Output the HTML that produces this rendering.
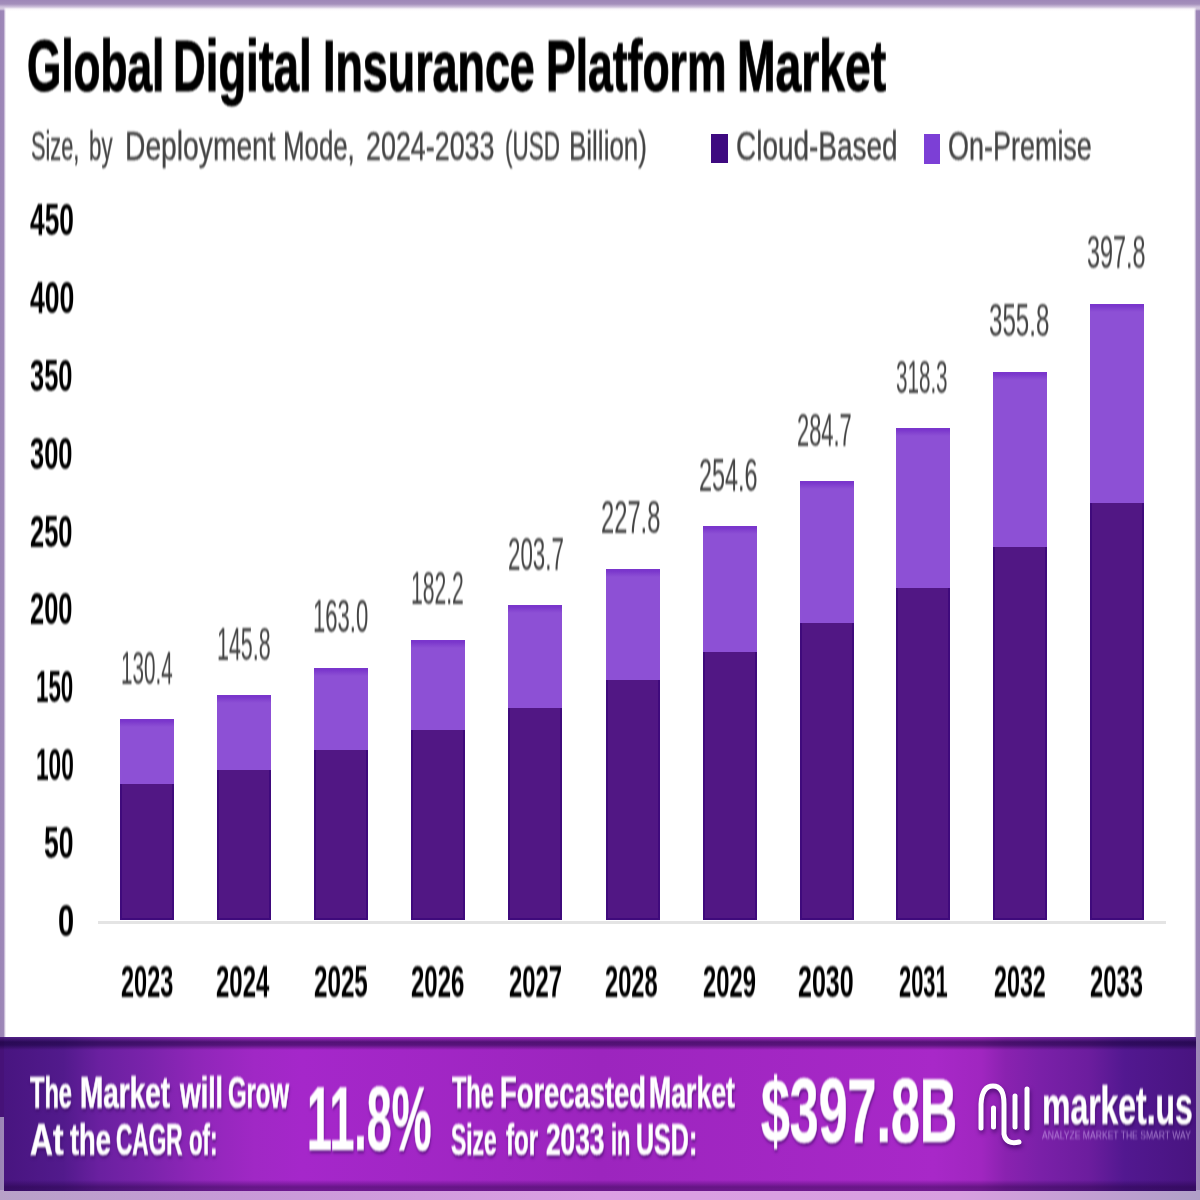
<!DOCTYPE html>
<html><head><meta charset="utf-8">
<style>
html,body{margin:0;padding:0;}
body{width:1200px;height:1200px;position:relative;overflow:hidden;background:#fff;font-family:"Liberation Sans",sans-serif;}
.w,.a{filter:blur(0.9px);}
.a{position:absolute;white-space:nowrap;line-height:1;}
.w{position:absolute;white-space:nowrap;line-height:1;transform-origin:0 0;}
.bd{position:absolute;background:#9e88b9;}
.bar{position:absolute;width:54px;box-sizing:border-box;filter:blur(0.6px);}
.c{background:#511784;border-left:2px solid #3f0a7c;border-right:2px solid #3f0a7c;border-bottom:2px solid #3f0a7c;}
.p{background:linear-gradient(180deg,#7a36cc 0px,#7a36cc 2px,#8444d0 5px,#8d50d5 8px);}
</style></head><body>

<div style="position:absolute;left:0;top:0;width:6px;height:1200px;background:linear-gradient(90deg,#9b84b6 0px,#9e88b8 3.5px,#e0d8e8 5px,rgba(255,255,255,0) 6px);"></div>
<div style="position:absolute;left:1194px;top:0;width:6px;height:1200px;background:linear-gradient(90deg,rgba(255,255,255,0) 0px,#e0d8e8 1px,#9e88b8 2.5px,#9b84b6 6px);"></div>
<div style="position:absolute;left:0;top:0;width:1200px;height:11px;background:linear-gradient(180deg,#9e87b8 0px,#a48fbb 4px,rgba(207,194,220,1) 7px,rgba(244,240,246,0.6) 9px,rgba(255,255,255,0) 11px);"></div>
<div style="position:absolute;left:711px;top:134px;width:17px;height:29px;background:#3e0a80;"></div>
<div style="position:absolute;left:924px;top:134px;width:16px;height:30px;background:#7c3fd6;"></div>
<div style="position:absolute;left:98px;top:921px;width:1068px;height:3px;background:#e4e4e4;"></div>
<div class="bar p" style="left:120px;top:719px;height:65px;"></div>
<div class="bar c" style="left:120px;top:784px;height:136px;"></div>
<div class="bar p" style="left:217px;top:695px;height:75px;"></div>
<div class="bar c" style="left:217px;top:770px;height:150px;"></div>
<div class="bar p" style="left:314px;top:667.5px;height:82.5px;"></div>
<div class="bar c" style="left:314px;top:750px;height:170px;"></div>
<div class="bar p" style="left:410.5px;top:639.5px;height:90.5px;"></div>
<div class="bar c" style="left:410.5px;top:730px;height:190px;"></div>
<div class="bar p" style="left:508px;top:605px;height:102.5px;"></div>
<div class="bar c" style="left:508px;top:707.5px;height:212.5px;"></div>
<div class="bar p" style="left:606px;top:568.5px;height:111.5px;"></div>
<div class="bar c" style="left:606px;top:680px;height:240px;"></div>
<div class="bar p" style="left:702.5px;top:526px;height:126px;"></div>
<div class="bar c" style="left:702.5px;top:652px;height:268px;"></div>
<div class="bar p" style="left:800px;top:481px;height:142px;"></div>
<div class="bar c" style="left:800px;top:623px;height:297px;"></div>
<div class="bar p" style="left:895.5px;top:428px;height:160px;"></div>
<div class="bar c" style="left:895.5px;top:588px;height:332px;"></div>
<div class="bar p" style="left:993px;top:371.6px;height:175.39999999999998px;"></div>
<div class="bar c" style="left:993px;top:547px;height:373px;"></div>
<div class="bar p" style="left:1090px;top:303.6px;height:199.39999999999998px;"></div>
<div class="bar c" style="left:1090px;top:503px;height:417px;"></div>
<div style="position:absolute;left:0;top:1190px;width:1200px;height:10px;background:linear-gradient(90deg,#b8a2c8 0%,#c89ad8 20%,#dca0e4 50%,#d8a0e0 80%,#b0a0c8 100%);"></div>
<div id="banner" style="position:absolute;left:4px;top:1037px;width:1192px;height:154px;background:linear-gradient(90deg,#481580 0%,#521a8c 5%,#6a20a0 8%,#7a23ab 12%,#8e26b8 16%,#a028c5 21%,#a527ca 25%,#9c25be 50%,#a828c8 78%,#a026c0 82%,#8a22b0 84%,#7a20a8 87%,#6c1d9e 91%,#521890 94%,#481480 100%);"></div>
<div style="position:absolute;left:0;top:1037px;width:4px;height:80px;background:#461278;"></div>
<div style="position:absolute;left:0px;top:1037px;width:1196px;height:13px;background:linear-gradient(180deg,rgba(255,255,255,0.05) 0px,rgba(15,0,50,0.55) 5px,rgba(15,0,50,0.5) 8px,rgba(15,0,50,0) 13px);"></div>
<div style="position:absolute;left:4px;top:1180px;width:1192px;height:11px;background:linear-gradient(180deg,rgba(30,0,60,0) 0px,rgba(30,0,60,0.45) 7px,rgba(30,0,60,0.4) 11px);"></div>
<div class="w" style="left:27.27px;top:30.04px;font-size:72px;font-weight:bold;color:#000;transform:scaleX(0.6129);-webkit-text-stroke:1.1px #000;">Global</div>
<div class="w" style="left:173.48px;top:30.04px;font-size:72px;font-weight:bold;color:#000;transform:scaleX(0.6303);-webkit-text-stroke:1.1px #000;">Digital</div>
<div class="w" style="left:322.51px;top:30.04px;font-size:72px;font-weight:bold;color:#000;transform:scaleX(0.6226);-webkit-text-stroke:1.1px #000;">Insurance</div>
<div class="w" style="left:546.03px;top:30.04px;font-size:72px;font-weight:bold;color:#000;transform:scaleX(0.6179);-webkit-text-stroke:1.1px #000;">Platform</div>
<div class="w" style="left:737.43px;top:30.04px;font-size:72px;font-weight:bold;color:#000;transform:scaleX(0.6422);-webkit-text-stroke:1.1px #000;">Market</div>
<div class="w" style="left:31.47px;top:126.29px;font-size:41px;font-weight:normal;color:#444444;transform:scaleX(0.5302);-webkit-text-stroke:0.4px #444444;">Size,</div>
<div class="w" style="left:88.71px;top:126.29px;font-size:41px;font-weight:normal;color:#444444;transform:scaleX(0.5430);-webkit-text-stroke:0.4px #444444;">by</div>
<div class="w" style="left:124.93px;top:126.29px;font-size:41px;font-weight:normal;color:#444444;transform:scaleX(0.6886);-webkit-text-stroke:0.4px #444444;">Deployment</div>
<div class="w" style="left:283.11px;top:126.29px;font-size:41px;font-weight:normal;color:#444444;transform:scaleX(0.6299);-webkit-text-stroke:0.4px #444444;">Mode,</div>
<div class="w" style="left:365.69px;top:126.29px;font-size:41px;font-weight:normal;color:#444444;transform:scaleX(0.6553);-webkit-text-stroke:0.4px #444444;">2024-2033</div>
<div class="w" style="left:504.90px;top:126.29px;font-size:41px;font-weight:normal;color:#444444;transform:scaleX(0.5486);-webkit-text-stroke:0.4px #444444;">(USD</div>
<div class="w" style="left:568.70px;top:126.29px;font-size:41px;font-weight:normal;color:#444444;transform:scaleX(0.6335);-webkit-text-stroke:0.4px #444444;">Billion)</div>
<div class="w" style="left:735.64px;top:126.29px;font-size:41px;font-weight:normal;color:#444444;transform:scaleX(0.6817);-webkit-text-stroke:0.4px #444444;">Cloud-Based</div>
<div class="w" style="left:948.34px;top:126.29px;font-size:41px;font-weight:normal;color:#444444;transform:scaleX(0.6577);-webkit-text-stroke:0.4px #444444;">On-Premise</div>
<div class="w" style="left:30.30px;top:1070.75px;font-size:44px;font-weight:bold;color:#fff;transform:scaleX(0.5368);text-shadow:1px 3px 3px rgba(50,0,90,0.6);-webkit-text-stroke:0.7px #fff;">The</div>
<div class="w" style="left:80.43px;top:1070.75px;font-size:44px;font-weight:bold;color:#fff;transform:scaleX(0.6349);text-shadow:1px 3px 3px rgba(50,0,90,0.6);-webkit-text-stroke:0.7px #fff;">Market</div>
<div class="w" style="left:180.31px;top:1070.75px;font-size:44px;font-weight:bold;color:#fff;transform:scaleX(0.6071);text-shadow:1px 3px 3px rgba(50,0,90,0.6);-webkit-text-stroke:0.7px #fff;">will</div>
<div class="w" style="left:228.16px;top:1070.75px;font-size:44px;font-weight:bold;color:#fff;transform:scaleX(0.5427);text-shadow:1px 3px 3px rgba(50,0,90,0.6);-webkit-text-stroke:0.7px #fff;">Grow</div>
<div class="w" style="left:29.58px;top:1117.75px;font-size:44px;font-weight:bold;color:#fff;transform:scaleX(0.7209);text-shadow:1px 3px 3px rgba(50,0,90,0.6);-webkit-text-stroke:0.7px #fff;">At</div>
<div class="w" style="left:70.00px;top:1117.75px;font-size:44px;font-weight:bold;color:#fff;transform:scaleX(0.6199);text-shadow:1px 3px 3px rgba(50,0,90,0.6);-webkit-text-stroke:0.7px #fff;">the</div>
<div class="w" style="left:116.19px;top:1117.75px;font-size:44px;font-weight:bold;color:#fff;transform:scaleX(0.5134);text-shadow:1px 3px 3px rgba(50,0,90,0.6);-webkit-text-stroke:0.7px #fff;">CAGR</div>
<div class="w" style="left:188.50px;top:1117.75px;font-size:44px;font-weight:bold;color:#fff;transform:scaleX(0.5046);text-shadow:1px 3px 3px rgba(50,0,90,0.6);-webkit-text-stroke:0.7px #fff;">of:</div>
<div class="w" style="left:452.00px;top:1070.75px;font-size:44px;font-weight:bold;color:#fff;transform:scaleX(0.5342);text-shadow:1px 3px 3px rgba(50,0,90,0.6);-webkit-text-stroke:0.7px #fff;">The</div>
<div class="w" style="left:499.76px;top:1070.75px;font-size:44px;font-weight:bold;color:#fff;transform:scaleX(0.6221);text-shadow:1px 3px 3px rgba(50,0,90,0.6);-webkit-text-stroke:0.7px #fff;">Forecasted</div>
<div class="w" style="left:648.79px;top:1070.75px;font-size:44px;font-weight:bold;color:#fff;transform:scaleX(0.6063);text-shadow:1px 3px 3px rgba(50,0,90,0.6);-webkit-text-stroke:0.7px #fff;">Market</div>
<div class="w" style="left:451.48px;top:1117.75px;font-size:44px;font-weight:bold;color:#fff;transform:scaleX(0.5200);text-shadow:1px 3px 3px rgba(50,0,90,0.6);-webkit-text-stroke:0.7px #fff;">Size</div>
<div class="w" style="left:506.00px;top:1117.75px;font-size:44px;font-weight:bold;color:#fff;transform:scaleX(0.5467);text-shadow:1px 3px 3px rgba(50,0,90,0.6);-webkit-text-stroke:0.7px #fff;">for</div>
<div class="w" style="left:546.40px;top:1117.75px;font-size:44px;font-weight:bold;color:#fff;transform:scaleX(0.5974);text-shadow:1px 3px 3px rgba(50,0,90,0.6);-webkit-text-stroke:0.7px #fff;">2033</div>
<div class="w" style="left:610.51px;top:1117.75px;font-size:44px;font-weight:bold;color:#fff;transform:scaleX(0.4967);text-shadow:1px 3px 3px rgba(50,0,90,0.6);-webkit-text-stroke:0.7px #fff;">in</div>
<div class="w" style="left:635.86px;top:1117.75px;font-size:44px;font-weight:bold;color:#fff;transform:scaleX(0.5692);text-shadow:1px 3px 3px rgba(50,0,90,0.6);-webkit-text-stroke:0.7px #fff;">USD:</div>
<div class="w" style="left:306.51px;top:1073.80px;font-size:90px;font-weight:bold;color:#fff;transform:scaleX(0.4975);text-shadow:1px 3px 3px rgba(50,0,90,0.6);-webkit-text-stroke:0.7px #fff;">11.8%</div>
<div class="w" style="left:761.02px;top:1065.80px;font-size:90px;font-weight:bold;color:#fff;transform:scaleX(0.5768);text-shadow:1px 3px 3px rgba(50,0,90,0.6);-webkit-text-stroke:0.7px #fff;">$397.8B</div>
<div class="w" style="left:1041.83px;top:1078.28px;font-size:54px;font-weight:bold;color:#fff;transform:scaleX(0.5914);text-shadow:1px 3px 3px rgba(40,0,80,0.6);-webkit-text-stroke:0.5px #fff;">market.us</div>
<div class="w" style="left:57.84px;top:898.50px;font-size:44px;font-weight:bold;color:#000;transform:scaleX(0.6591);">0</div>
<div class="w" style="left:44.40px;top:820.72px;font-size:44px;font-weight:bold;color:#000;transform:scaleX(0.6025);">50</div>
<div class="w" style="left:35.97px;top:742.94px;font-size:44px;font-weight:bold;color:#000;transform:scaleX(0.5147);">100</div>
<div class="w" style="left:35.98px;top:665.16px;font-size:44px;font-weight:bold;color:#000;transform:scaleX(0.5076);">150</div>
<div class="w" style="left:30.42px;top:587.38px;font-size:44px;font-weight:bold;color:#000;transform:scaleX(0.5779);">200</div>
<div class="w" style="left:30.42px;top:509.60px;font-size:44px;font-weight:bold;color:#000;transform:scaleX(0.5779);">250</div>
<div class="w" style="left:30.42px;top:431.82px;font-size:44px;font-weight:bold;color:#000;transform:scaleX(0.5779);">300</div>
<div class="w" style="left:30.42px;top:354.04px;font-size:44px;font-weight:bold;color:#000;transform:scaleX(0.5779);">350</div>
<div class="w" style="left:29.50px;top:276.26px;font-size:44px;font-weight:bold;color:#000;transform:scaleX(0.6047);">400</div>
<div class="w" style="left:30.00px;top:198.48px;font-size:44px;font-weight:bold;color:#000;transform:scaleX(0.5977);">450</div>
<div class="w" style="left:120.66px;top:644.52px;font-size:46px;font-weight:normal;color:#444444;transform:scaleX(0.4483);">130.4</div>
<div class="w" style="left:217.10px;top:620.52px;font-size:46px;font-weight:normal;color:#444444;transform:scaleX(0.4659);">145.8</div>
<div class="w" style="left:313.31px;top:593.02px;font-size:46px;font-weight:normal;color:#444444;transform:scaleX(0.4795);">163.0</div>
<div class="w" style="left:411.32px;top:565.02px;font-size:46px;font-weight:normal;color:#444444;transform:scaleX(0.4587);">182.2</div>
<div class="w" style="left:507.53px;top:530.52px;font-size:46px;font-weight:normal;color:#444444;transform:scaleX(0.4851);">203.7</div>
<div class="w" style="left:600.97px;top:494.02px;font-size:46px;font-weight:normal;color:#444444;transform:scaleX(0.5156);">227.8</div>
<div class="w" style="left:698.73px;top:451.52px;font-size:46px;font-weight:normal;color:#444444;transform:scaleX(0.5088);">254.6</div>
<div class="w" style="left:797.05px;top:406.52px;font-size:46px;font-weight:normal;color:#444444;transform:scaleX(0.4752);">284.7</div>
<div class="w" style="left:895.95px;top:353.52px;font-size:46px;font-weight:normal;color:#444444;transform:scaleX(0.4479);">318.3</div>
<div class="w" style="left:989.48px;top:297.12px;font-size:46px;font-weight:normal;color:#444444;transform:scaleX(0.5243);">355.8</div>
<div class="w" style="left:1087.19px;top:229.12px;font-size:46px;font-weight:normal;color:#444444;transform:scaleX(0.5092);">397.8</div>
<div class="w" style="left:121.47px;top:959.50px;font-size:44px;font-weight:bold;color:#000;transform:scaleX(0.5345);">2023</div>
<div class="w" style="left:216.46px;top:959.50px;font-size:44px;font-weight:bold;color:#000;transform:scaleX(0.5441);">2024</div>
<div class="w" style="left:314.20px;top:959.50px;font-size:44px;font-weight:bold;color:#000;transform:scaleX(0.5497);">2025</div>
<div class="w" style="left:411.45px;top:959.50px;font-size:44px;font-weight:bold;color:#000;transform:scaleX(0.5450);">2026</div>
<div class="w" style="left:509.21px;top:959.50px;font-size:44px;font-weight:bold;color:#000;transform:scaleX(0.5424);">2027</div>
<div class="w" style="left:605.46px;top:959.50px;font-size:44px;font-weight:bold;color:#000;transform:scaleX(0.5368);">2028</div>
<div class="w" style="left:702.96px;top:959.50px;font-size:44px;font-weight:bold;color:#000;transform:scaleX(0.5398);">2029</div>
<div class="w" style="left:797.93px;top:959.50px;font-size:44px;font-weight:bold;color:#000;transform:scaleX(0.5686);">2030</div>
<div class="w" style="left:899.25px;top:959.50px;font-size:44px;font-weight:bold;color:#000;transform:scaleX(0.4979);">2031</div>
<div class="w" style="left:994.22px;top:959.50px;font-size:44px;font-weight:bold;color:#000;transform:scaleX(0.5293);">2032</div>
<div class="w" style="left:1090.46px;top:959.50px;font-size:44px;font-weight:bold;color:#000;transform:scaleX(0.5424);">2033</div>
<div class="w" style="left:1042px;top:1130px;font-size:11px;transform:scaleX(0.78);color:rgba(230,200,255,0.55);">ANALYZE MARKET THE SMART WAY</div>
<svg style="position:absolute;left:0;top:0;" width="1200" height="1200" viewBox="0 0 1200 1200"><g fill="none" stroke="#fff" stroke-linecap="round" stroke-width="5" style="filter:drop-shadow(1px 3px 2px rgba(40,0,80,0.6)) blur(0.5px)"><path d="M981,1128 L981,1104 Q982,1086 993,1086 Q1004,1086 1004,1104 L1004,1134 Q1006,1145 1019,1142"/><path d="M993.5,1127 L993.5,1108"/><path d="M1015,1096 L1015,1127"/><path d="M1027,1089 L1027,1128"/></g></svg>
</body></html>
